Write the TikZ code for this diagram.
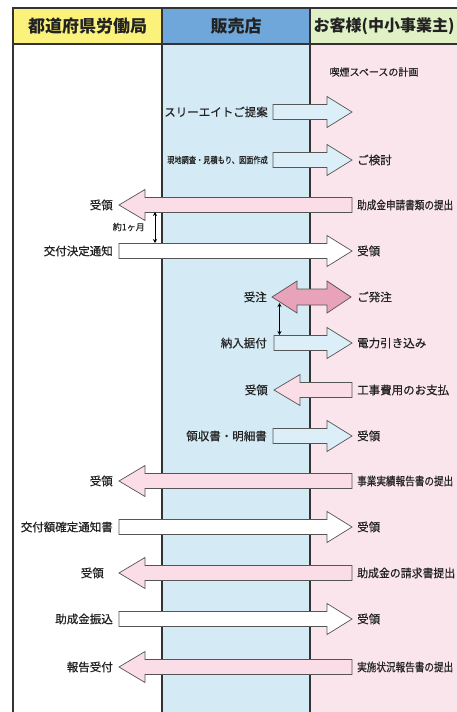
\documentclass[tikz,border=0pt]{standalone}
\usepackage{fontspec}
\usepackage{graphicx}
\newfontfamily\jp{Noto Sans CJK JP}
\newfontfamily\jpm{Noto Sans CJK JP}[BoldFont={Noto Sans CJK JP}, BoldFeatures={FakeBold=0.45}]
\usetikzlibrary{arrows.meta}
\definecolor{hyellow}{HTML}{FBF27C}
\definecolor{hblue}{HTML}{6FA7DA}
\definecolor{hgreen}{HTML}{E1F1C6}
\definecolor{bblue}{HTML}{D4EAF5}
\definecolor{bpink}{HTML}{FAE5EC}
\definecolor{ablue}{HTML}{DCEFF9}
\definecolor{apink}{HTML}{FADDE6}
\definecolor{dpink}{HTML}{E8A2BA}
\definecolor{outl}{HTML}{555555}
\definecolor{frame}{HTML}{333333}
\definecolor{txt}{HTML}{222222}
\tikzset{
  lane/.style={draw=frame, line width=1.2pt},
  blk/.style={draw=outl, line width=0.7pt, line join=miter},
  lbl/.style={font=\jpm\bfseries\fontsize{11.5}{12}\selectfont, text=txt, inner sep=0pt},
  small/.style={font=\jpm\bfseries\fontsize{9}{10}\selectfont, text=txt, inner sep=0pt},
  head/.style={font=\jp\bfseries\fontsize{17}{18}\selectfont, text=txt, inner sep=0pt},
  vdbl/.style={{Stealth[length=4pt,width=4pt]}-{Stealth[length=4pt,width=4pt]}, line width=1pt, draw=black},
}
% right block arrow: tail x, tip x, y, fill
\newcommand\blkR[4]{\filldraw[blk, fill=#4] (#1,{#3-7.5}) -- ({#2-25},{#3-7.5}) -- ({#2-25},{#3-15.5}) -- (#2,#3) -- ({#2-25},{#3+15.5}) -- ({#2-25},{#3+7.5}) -- (#1,{#3+7.5}) -- cycle;}
% left block arrow: tip x, tail x, y, fill
\newcommand\blkL[4]{\filldraw[blk, fill=#4] (#2,{#3-7.5}) -- ({#1+26},{#3-7.5}) -- ({#1+26},{#3-15.5}) -- (#1,#3) -- ({#1+26},{#3+15.5}) -- ({#1+26},{#3+7.5}) -- (#2,{#3+7.5}) -- cycle;}
\newcommand\cond[2]{\scalebox{#1}[1]{#2}}
\begin{document}
\begin{tikzpicture}[x=1pt,y=-1pt]
\useasboundingbox (0,0) rectangle (457,712);
\fill[white] (0,0) rectangle (457,712);
% lanes
\fill[hyellow] (13,8) rectangle (162,44);
\fill[hblue] (162,8) rectangle (310,44);
\fill[hgreen] (310,8) rectangle (457,44);
\fill[bblue] (162,44) rectangle (310,712);
\fill[bpink] (310,44) rectangle (457,712);
\draw[lane] (457,8) -- (13,8) -- (13,712);
\draw[lane] (13,44) -- (457,44);
\draw[lane] (162,8) -- (162,712);
\draw[lane] (310,8) -- (310,712);
% headers
\node[head] (h1) at (87.5,26) {都道府県労働局};
\node[head] (h2) at (236,26) {販売店};
\node[head, font=\jp\bfseries\fontsize{16}{18}\selectfont] (h3) at (384,26) {お客様(中小事業主)};
\node[lbl, font=\jpm\bfseries\fontsize{10}{11}\selectfont] (plan) at (374,72) {喫煙スペースの計画};
% 1
\blkR{273}{352}{112}{ablue}
\node[lbl, anchor=east] (t1) at (268,112) {スリーエイトご提案};
% 2
\blkR{273}{352}{160}{ablue}
\node[small, anchor=east] (t2) at (268,160) {\cond{0.8}{現地調査・見積もり、図面作成}};
\node[lbl, anchor=west] (t2b) at (357,160) {ご検討};
% 3
\blkL{119}{352}{205}{apink}
\node[lbl, anchor=east] (t3) at (113,205) {受領};
\node[lbl, anchor=west] (t3b) at (357,205) {\cond{0.835}{助成金申請書類の提出}};
% month
\coordinate (m1) at (155,212);
\coordinate (m2) at (155,243);
\draw[vdbl] (m1) -- (m2);
\node[small, anchor=east] (tm) at (145,227) {約1ヶ月};
% 5
\blkR{119}{352}{251}{white}
\node[lbl, anchor=east] (t5) at (113,251) {交付決定通知};
\node[lbl, anchor=west] (t5b) at (357,251) {受領};
% 6 double
\filldraw[blk, fill=dpink] (272,297) -- (297,{297-16}) -- (297,{297-8}) -- (327,{297-8}) -- (327,{297-16}) -- (351,297) -- (327,{297+16}) -- (327,{297+8}) -- (297,{297+8}) -- (297,{297+16}) -- cycle;
\node[lbl, anchor=east] (t6) at (267,297) {受注};
\node[lbl, anchor=west] (t6b) at (357,297) {ご発注};
% vertical 2
\coordinate (n1) at (279.5,303);
\coordinate (n2) at (279.5,335);
\draw[vdbl] (n1) -- (n2);
% 8
\blkR{274}{352}{343}{ablue}
\node[lbl, anchor=east] (t8) at (267,343) {納入据付};
\node[lbl, anchor=west] (t8b) at (357,343) {電力引き込み};
% 9
\blkL{274}{352}{390}{apink}
\node[lbl, anchor=east] (t9) at (268,390) {受領};
\node[lbl, anchor=west] (t9b) at (357,390) {工事費用のお支払};
% 10
\blkR{273}{352}{436}{ablue}
\node[lbl, anchor=east] (t10) at (267,436) {領収書・明細書};
\node[lbl, anchor=west] (t10b) at (357,436) {受領};
% 11
\blkL{119}{352}{481}{apink}
\node[lbl, anchor=east] (t11) at (113,481) {受領};
\node[lbl, anchor=west] (t11b) at (357,481) {\cond{0.835}{事業実績報告書の提出}};
% 12
\blkR{119}{352}{527}{white}
\node[lbl, anchor=east] (t12) at (113,527) {交付額確定通知書};
\node[lbl, anchor=west] (t12b) at (357,527) {受領};
% 13
\blkL{119}{352}{573}{apink}
\node[lbl, anchor=east] (t13) at (104,573) {受領};
\node[lbl, anchor=west] (t13b) at (357,573) {\cond{0.947}{助成金の請求書提出}};
% 14
\blkR{119}{352}{619}{white}
\node[lbl, anchor=east] (t14) at (113,619) {助成金振込};
\node[lbl, anchor=west] (t14b) at (357,619) {受領};
% 15
\blkL{119}{352}{667}{apink}
\node[lbl, anchor=east] (t15) at (113,667) {報告受付};
\node[lbl, anchor=west] (t15b) at (357,667) {\cond{0.835}{実施状況報告書の提出}};
\end{tikzpicture}
\end{document}
